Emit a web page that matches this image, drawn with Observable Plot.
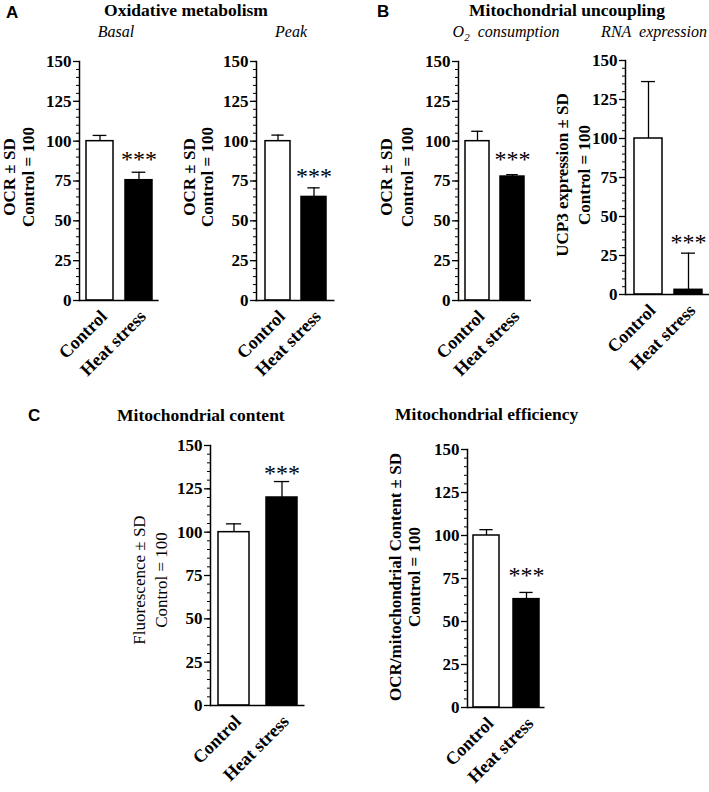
<!DOCTYPE html>
<html><head><meta charset="utf-8">
<script src="https://cdn.jsdelivr.net/npm/d3@7"></script>
<script src="https://cdn.jsdelivr.net/npm/@observablehq/plot@0.6"></script>
<style>
html,body{margin:0;padding:0;background:#fff;}
#root{position:relative;width:709px;height:792px;overflow:hidden;background:#fff;}
#root svg{position:absolute;}
</style></head><body><div id="root"></div>
<script>
// ---- data ----
const groups = ["Control", "Heat stress"];
const basalMean = [100, 75.5];
const basalSD = [3.6, 5.0];
const peakMean = [100, 65];
const peakSD = [3.8, 5.7];
const o2Mean = [100, 77.8];
const o2SD = [6.2, 1.2];
const rnaMean = [100, 3];
const rnaSD = [36.5, 23.5];
const contentMean = [100, 120];
const contentSD = [4.8, 9.2];
const efficiencyMean = [100, 63];
const efficiencySD = [3.4, 3.9];
const stars = ["", "***"];
const yTicks = [0, 25, 50, 75, 100, 125, 150];
const yMinorTicks = d3.range(0, 151, 5);

// ---- layout ----
const serif = "'Liberation Serif', 'Times New Roman', Times, serif";
const sans = "'Liberation Sans', Arial, sans-serif";
const starSize = 24;
const panels = [
  {mean: basalMean, sd: basalSD, box: [0, 0, 172, 400], x: [79, 158.6], y: [61, 300], pad: [0.32, 0.18], starGap: 17},
  {mean: peakMean, sd: peakSD, box: [172, 0, 178, 400], x: [256, 334.5], y: [61, 300], pad: [0.31, 0.216], starGap: 15.6},
  {mean: o2Mean, sd: o2SD, box: [350, 0, 195, 400], x: [458, 531], y: [61, 300], pad: [0.305, 0.167], starGap: 20},
  {mean: rnaMean, sd: rnaSD, box: [545, 0, 164, 400], x: [625, 711], y: [60, 294], pad: [0.3, 0.225], starGap: 15},
  {mean: contentMean, sd: contentSD, box: [100, 400, 260, 392], x: [210, 304.5], y: [445, 705], pad: [0.357, 0.143], starGap: 12.7},
  {mean: efficiencyMean, sd: efficiencySD, box: [370, 400, 280, 392], x: [467, 544.5], y: [449, 707], pad: [0.3625, 0.15], starGap: 21}
];

const root = document.getElementById("root");

for (const p of panels) {
  const data = groups.map((g, i) => ({group: g, mean: p.mean[i], top: p.mean[i] + p.sd[i], star: stars[i]}));
  const [L, T, W, H] = p.box;
  const [x0, x1] = p.x;
  const [yTop, yBot] = p.y;
  const [pi, po] = p.pad;
  const step = (x1 - x0) / (2 - pi + 2 * po);
  const bw = step * (1 - pi);
  const chart = Plot.plot({
    width: W, height: H,
    marginLeft: x0 - L, marginRight: L + W - x1,
    marginTop: yTop - T, marginBottom: T + H - yBot,
    style: {background: "transparent", fontFamily: serif, color: "black", overflow: "visible"},
    x: {domain: groups, paddingInner: pi, paddingOuter: po, align: 0.5},
    y: {domain: [0, 150]},
    color: {domain: groups, range: ["white", "black"]},
    marks: [
      Plot.axisY({ticks: yMinorTicks, tickSize: 3, tickFormat: () => "", label: null, strokeWidth: 1}),
      Plot.axisY({ticks: yTicks, tickSize: 6, tickPadding: 2, fontSize: 17, fontWeight: "bold", label: null, strokeWidth: 1.3}),
      Plot.axisX({tickSize: 0, tickPadding: 13, dx: 4, tickRotate: -45, fontSize: 18, fontWeight: "bold", label: null}),
      Plot.barY(data, {x: "group", y: "mean", fill: "group", stroke: "black", strokeWidth: 1.5}),
      Plot.ruleX(data, {x: "group", y1: "mean", y2: "top", stroke: "black", strokeWidth: 1.3}),
      Plot.tickY(data, {x: "group", y: "top", inset: bw / 4, stroke: "black", strokeWidth: 1.3}),
      Plot.text(data, {x: "group", y: "top", text: "star", dy: -(p.starGap - 0.18 * starSize), fontSize: starSize, fontWeight: "normal"}),
      Plot.ruleY([0], {stroke: "black", strokeWidth: 1.5}),
      Plot.frame({anchor: "left", stroke: "black", strokeWidth: 1.5})
    ]
  });
  chart.style.left = L + "px";
  chart.style.top = T + "px";
  root.appendChild(chart);
}

// ---- titles and axis labels ----
const svg = d3.select(root).append("svg")
  .attr("width", 709).attr("height", 792)
  .style("left", "0px").style("top", "0px").style("pointer-events", "none");

const titles = [
  {text: "Oxidative metabolism", x: 186, y: 16, anchor: "middle"},
  {text: "Mitochondrial uncoupling", x: 567, y: 16, anchor: "middle"},
  {text: "Mitochondrial content", x: 117, y: 421, anchor: "start"},
  {text: "Mitochondrial efficiency", x: 395, y: 420, anchor: "start"}
];
for (const t of titles) {
  svg.append("text").attr("x", t.x).attr("y", t.y).attr("text-anchor", t.anchor)
    .attr("font-family", serif).attr("font-weight", "bold").attr("font-size", 17.5).text(t.text);
}
const subtitles = [
  {text: "Basal", x: 116, y: 37},
  {text: "Peak", x: 291, y: 37},
  {text: "RNA  expression", x: 654, y: 37}
];
for (const t of subtitles) {
  svg.append("text").attr("x", t.x).attr("y", t.y).attr("text-anchor", "middle")
    .attr("font-family", serif).attr("font-style", "italic").attr("font-size", 16)
    .attr("xml:space", "preserve").style("white-space", "pre").text(t.text);
}
const o2 = svg.append("text").attr("x", 506).attr("y", 37).attr("text-anchor", "middle")
  .attr("font-family", serif).attr("font-style", "italic").attr("font-size", 16).style("white-space", "pre");
o2.append("tspan").text("O");
o2.append("tspan").attr("font-size", 11).attr("dy", 4).text("2");
o2.append("tspan").attr("dy", -4).text("  consumption");

const letters = [
  {text: "A", x: 6, y: 18},
  {text: "B", x: 377, y: 17},
  {text: "C", x: 28, y: 421}
];
for (const t of letters) {
  svg.append("text").attr("x", t.x).attr("y", t.y)
    .attr("font-family", sans).attr("font-weight", "bold").attr("font-size", 17).text(t.text);
}

const yLabels = [
  {lines: ["OCR \u00b1 SD", "Control = 100"], bx: [15, 33.5], cy: 177, bold: true},
  {lines: ["OCR \u00b1 SD", "Control = 100"], bx: [195, 213], cy: 177, bold: true},
  {lines: ["OCR \u00b1 SD", "Control = 100"], bx: [392, 413], cy: 177, bold: true},
  {lines: ["UCP3 expression \u00b1 SD", "Control = 100"], bx: [568, 590], cy: 175, bold: true},
  {lines: ["Fluorescence \u00b1 SD", "Control = 100"], bx: [145, 167], cy: 580, bold: false},
  {lines: ["OCR/mitochondrial Content \u00b1 SD", "Control = 100"], bx: [401, 420], cy: 577, bold: true}
];
for (const l of yLabels) {
  l.lines.forEach((line, i) => {
    svg.append("text")
      .attr("transform", `translate(${l.bx[i]},${l.cy}) rotate(-90)`)
      .attr("text-anchor", "middle")
      .attr("font-family", serif).attr("font-weight", l.bold ? "bold" : "normal")
      .attr("font-size", 17).text(line);
  });
}
</script>
</body></html>
